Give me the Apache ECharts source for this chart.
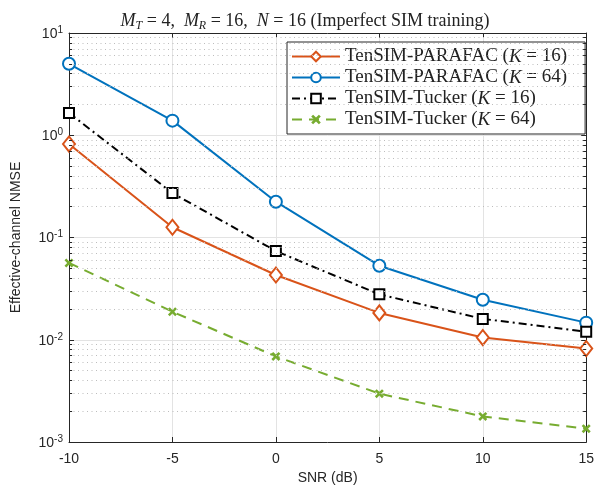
<!DOCTYPE html>
<html><head><meta charset="utf-8">
<script src="https://cdn.jsdelivr.net/npm/echarts@6/dist/echarts.min.js"></script>
<style>html,body{margin:0;padding:0;background:#fff}#c{width:597px;height:491px}</style>
</head><body><div id="c"></div>
<script>
// ---- data ----
const snr = [-10, -5, 0, 5, 10, 15];
const parafacK16 = [0.82, 0.126, 0.043, 0.0183, 0.0105, 0.0082];
const parafacK64 = [5.0, 1.39, 0.224, 0.053, 0.0246, 0.0147];
const tuckerK16 = [1.65, 0.272, 0.0737, 0.0278, 0.016, 0.012];
const tuckerK64 = [0.0564, 0.0188, 0.00687, 0.00297, 0.00178, 0.00135];
const seriesNames = ['PARAFAC16', 'PARAFAC64', 'Tucker16', 'Tucker64'];
const legendLabels = {
  PARAFAC16: 'TenSIM-PARAFAC ({i|K} = 16)',
  PARAFAC64: 'TenSIM-PARAFAC ({i|K} = 64)',
  Tucker16: 'TenSIM-Tucker ({i|K} = 16)',
  Tucker64: 'TenSIM-Tucker ({i|K} = 64)'
};
const xMin = -10, xMax = 15, xStep = 5;
const yMin = 1e-3, yMax = 1e1;
const minorMults = [2, 3, 4, 5, 6, 7, 8, 9];
const decades = [-3, -2, -1, 0];

// ---- build ----
const pairs = arr => snr.map((x, i) => [x, arr[i]]);
const minorVals = [];
decades.forEach(d => minorMults.forEach(m => minorVals.push(m * Math.pow(10, d))));

const axisColor = '#262626';
const serif = '"Liberation Serif", "DejaVu Serif", serif';
const sans = '"Liberation Sans", Arial, sans-serif';
const tickLen = 0.15; // in x units, for minor tick marks

const minorGrid = minorVals.map(v => [{coord: [xMin, v]}, {coord: [xMax, v]}]);
const minorTicksL = minorVals.map(v => [{coord: [xMin, v], lineStyle: {type: 'solid', color: axisColor, width: 1}}, {coord: [xMin + tickLen, v]}]);
const minorTicksR = minorVals.map(v => [{coord: [xMax, v], lineStyle: {type: 'solid', color: axisColor, width: 1}}, {coord: [xMax - tickLen, v]}]);

const xSymbol = 'path://M2,0 L5,3 L8,0 L10,2 L7,5 L10,8 L8,10 L5,7 L2,10 L0,8 L3,5 L0,2 Z';

const chart = echarts.init(document.getElementById('c'), null, {renderer: 'canvas'});
chart.setOption({
  backgroundColor: '#fff',
  animation: false,
  title: {
    text: '{i|M}{s|T}{n| = 4,  }{i|M}{s|R}{n| = 16,  }{i|N}{n| = 16 (Imperfect SIM training)}',
    left: 300, top: 5, textAlign: 'center',
    textStyle: {
      fontWeight: 'normal',
      rich: {
        n: {fontFamily: serif, fontSize: 18, fontWeight: 'normal', color: '#222', lineHeight: 22},
        i: {fontFamily: serif, fontSize: 18, fontWeight: 'normal', fontStyle: 'italic', color: '#222', lineHeight: 22},
        s: {fontFamily: serif, fontSize: 12, fontWeight: 'normal', fontStyle: 'italic', color: '#222', verticalAlign: 'bottom', lineHeight: 13, padding: [7, 0, 0, 0]}
      }
    }
  },
  grid: {left: 69, right: 10, top: 33, bottom: 49, containLabel: false},
  legend: {
    left: 287, top: 42, orient: 'vertical',
    itemWidth: 48, itemHeight: 12, itemGap: 2,
    padding: [5, 18, 5, 4],
    backgroundColor: '#fff', borderColor: axisColor, borderWidth: 1,
    data: seriesNames,
    formatter: name => legendLabels[name],
    textStyle: {
      fontFamily: serif, fontSize: 19, color: '#222', lineHeight: 19,
      rich: {i: {fontFamily: serif, fontSize: 19, fontStyle: 'italic', color: '#222', lineHeight: 19}}
    }
  },
  xAxis: [{
    type: 'value', min: xMin, max: xMax, interval: xStep,
    name: 'SNR (dB)', nameLocation: 'middle', nameGap: 28,
    nameTextStyle: {fontFamily: sans, fontSize: 14, color: axisColor},
    axisLine: {onZero: false, lineStyle: {color: axisColor, width: 1}},
    axisTick: {inside: true, length: 5, lineStyle: {color: axisColor}},
    axisLabel: {fontFamily: sans, fontSize: 14, color: axisColor, margin: 10},
    splitLine: {show: true, lineStyle: {color: '#e3e3e3', width: 1}}
  }, {
    type: 'value', min: xMin, max: xMax, interval: xStep, position: 'top',
    axisLine: {onZero: false, lineStyle: {color: axisColor, width: 1}},
    axisTick: {inside: true, length: 5, lineStyle: {color: axisColor}},
    axisLabel: {show: false}, splitLine: {show: false}
  }],
  yAxis: [{
    type: 'log', logBase: 10, min: yMin, max: yMax,
    name: 'Effective-channel NMSE', nameLocation: 'middle', nameGap: 46,
    nameTextStyle: {fontFamily: sans, fontSize: 14, color: axisColor},
    axisLine: {onZero: false, lineStyle: {color: axisColor, width: 1}},
    axisTick: {inside: true, length: 5, lineStyle: {color: axisColor}},
    axisLabel: {
      margin: 6,
      formatter: v => '{b|10}{e|' + Math.round(Math.log10(v)) + '}',
      rich: {
        b: {fontFamily: sans, fontSize: 14, color: axisColor, verticalAlign: 'bottom', lineHeight: 16},
        e: {fontFamily: sans, fontSize: 10, color: axisColor, verticalAlign: 'top', lineHeight: 10, padding: [0, 0, 10, 0]}
      }
    },
    splitLine: {show: true, lineStyle: {color: '#e3e3e3', width: 1}}
  }, {
    type: 'log', logBase: 10, min: yMin, max: yMax, position: 'right',
    axisLine: {onZero: false, lineStyle: {color: axisColor, width: 1}},
    axisTick: {inside: true, length: 5, lineStyle: {color: axisColor}},
    axisLabel: {show: false}, splitLine: {show: false}
  }],
  series: [
    {
      name: '_minor', type: 'line', data: [], silent: true, z: 1,
      markLine: {
        silent: true, symbol: ['none', 'none'], label: {show: false}, animation: false,
        lineStyle: {type: [1, 3.5], color: '#bdbdbd', width: 1},
        emphasis: {disabled: true},
        data: minorGrid.concat(minorTicksL, minorTicksR)
      }
    },
    {
      name: 'PARAFAC16', type: 'line', data: pairs(parafacK16),
      symbol: 'emptyDiamond', symbolSize: [12, 15],
      lineStyle: {color: '#D95319', width: 2},
      itemStyle: {color: '#D95319', borderWidth: 2}
    },
    {
      name: 'PARAFAC64', type: 'line', data: pairs(parafacK64),
      symbol: 'emptyCircle', symbolSize: 12,
      lineStyle: {color: '#0072BD', width: 2},
      itemStyle: {color: '#0072BD', borderWidth: 2}
    },
    {
      name: 'Tucker16', type: 'line', data: pairs(tuckerK16),
      symbol: 'emptyRect', symbolSize: 10,
      lineStyle: {color: '#000', width: 2, type: [8, 4, 2, 4]},
      itemStyle: {color: '#000', borderWidth: 2}
    },
    {
      name: 'Tucker64', type: 'line', data: pairs(tuckerK64),
      symbol: xSymbol, symbolSize: 9,
      lineStyle: {color: '#77AC30', width: 2, type: [10, 7]},
      itemStyle: {color: '#77AC30'}
    }
  ]
});
</script>
</body></html>
